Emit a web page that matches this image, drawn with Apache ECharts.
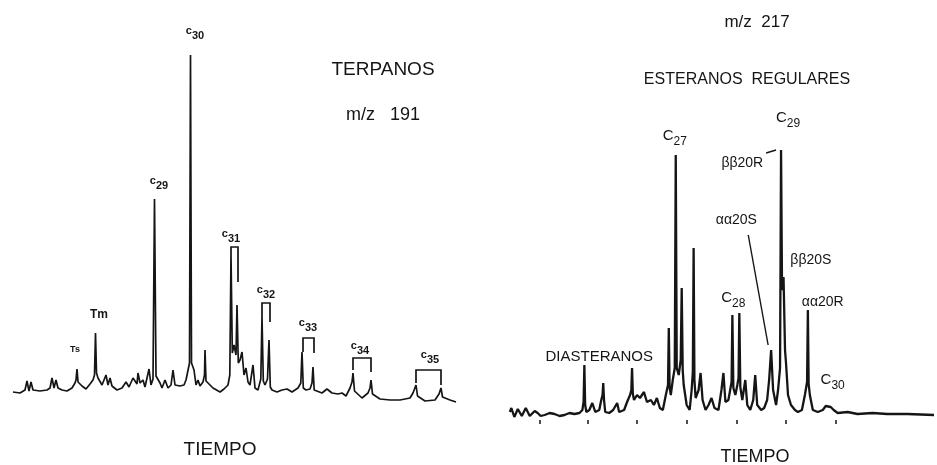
<!DOCTYPE html>
<html>
<head>
<meta charset="utf-8">
<script src="https://cdn.jsdelivr.net/npm/echarts@6/dist/echarts.min.js"></script>
<style>
  html, body { margin: 0; padding: 0; background: #fff; }
  #chart { width: 937px; height: 465px; }
</style>
</head>
<body>
<div id="chart"></div>
<script>
// ---- Terpanos, m/z 191: [scan, abundance] ----
const terpanosTrace = [
  [3,130],[10,120],[15,150],[17,240],[19,140],[21,230],[23,150],[30,140],[37,150],[40,170],
  [42,270],[44,170],[46,250],[48,170],[52,150],[57,140],[62,170],[65,220],[66,250],[67,360],[68,230],
  [72,190],[76,160],[80,210],[83,250],[84.5,300],[85.5,720],[86.5,320],[88,270],[90,280],[92,200],[96,300],[98,200],
  [100,270],[102,190],[107,150],[112,170],[116,230],[119,180],[123,270],[125,290],[127,210],[128,320],
  [130,220],[133,250],[135,180],[139,360],[141,200],[143,260],[144.5,2060],[146,290],[150,220],[152,170],[155,250],
  [158,170],[161,200],[163,350],[165,200],[170,190],[174,200],[176,250],[179.5,420],[180.5,3500],[181.5,420],[184,350],[186,200],
  [188,250],[190,190],[193,230],[194.5,300],[195,550],[196,240],[203,170],[210,130],[214,160],[218,200],[219.8,300],[221,1500],
  [222.3,520],[224,600],[226,500],[227,1000],[228.3,420],[230,450],[232,530],[234,300],[236,370],[238,230],[240,200],[243,400],[245,170],
  [248,150],[250.8,260],[252,880],[253.3,240],[255,200],[257.5,260],[259,650],[260.3,180],[262,150],[267,130],[272,150],[277,160],[282,130],[288,170],
  [290.8,220],[292,530],[293.3,170],[296,150],[300,160],[302,220],[303,380],[304.2,150],[306,130],[312,120],[317,160],[322,120],[328,110],[332,120],
  [336,90],[340,170],[342,230],[343,320],[344.5,140],[346,120],[352,70],[358,120],[360,170],[361,250],[362.5,110],[364,100],[370,60],[380,50],
  [390,50],[400,70],[403,120],[406,200],[407.5,90],[409,70],[415,40],[425,50],[429,110],[431,170],[432.5,80],[434,70],
  [440,50],[446,30]
];
// peak-pair brackets: [first scan, second scan, top, left foot, right foot]
const terpanosBrackets = [
  [221, 228, 1580, 1500, 1230],
  [252, 260, 1020, 880, 830],
  [293, 304, 670, 530, 520],
  [343, 361, 470, 350, 330],
  [406, 431, 350, 220, 200]
];
// labels: [prefix, index, scan, abundance]
const terpanosLabels = [
  ['c', '30', 185, 3720],
  ['c', '29', 149, 2220],
  ['c', '31', 221, 1690],
  ['c', '32', 256, 1130],
  ['c', '33', 298, 800],
  ['c', '34', 350, 570],
  ['c', '35', 420, 480],
  ['Tm', '', 89, 900],
  ['Ts', '', 65, 550]
];

// ---- Esteranos, m/z 217: [scan, abundance] ----
const esteranosTrace = [
  [20,80],[21.5,120],[23,100],[24.5,30],[26,40],[28,110],[30,90],[32,40],[34,60],[36,120],[38,100],[40,40],[42,50],[45,90],[48,70],[51,40],[55,50],[60,70],[65,60],
  [70,40],[75,50],[80,70],[85,60],[90,70],[93,100],[94.2,180],[95,550],[95.8,150],[97,80],[100,100],[103,170],[106,80],[110,100],
  [112,200],[113.3,250],[114,370],[114.8,200],[116,80],[120,70],[124,100],[128,170],[130,80],[135,100],[138,180],[141,250],
  [142.3,300],[143,520],[143.8,260],[145,200],[148,250],[151,220],[155,280],[158,180],[162,200],[165,150],[168,220],[171,120],
  [174,100],[177,250],[179.2,350],[180,920],[180.8,330],[182,250],[184,400],[186,520],[187,2650],[188,520],[190,450],[192,600],[193,1320],[194,500],[195,350],
  [198,150],[201,100],[203,300],[204.2,480],[205,1720],[205.8,400],[207,220],[210,300],[212,470],[214,200],[217,100],[220,150],
  [223,220],[226,120],[230,100],[233,300],[235,470],[237,180],[240,200],[243.2,380],[244,1050],[245,320],[247,250],[249,350],
  [250.2,420],[251,1070],[252,330],[254,200],[257,400],[259,150],[262,100],[265,200],[267,450],[269,150],[273,100],[276,120],
  [279,200],[281,400],[283,700],[285,300],[288,150],[290,300],[292,520],[293,2700],[294,1300],[295.5,1430],[297,700],
  [298,570],[300,250],[303,150],[307,100],[310,80],[314,100],[317,250],[319.2,380],[320,1100],[320.8,360],[322,250],[325,100],
  [330,80],[335,100],[338,140],[340,150],[343,130],[346,100],[350,70],[360,80],[370,60],[385,70],
  [400,60],[420,60],[447,50]
];
const esteranosTicks = [50, 98, 148, 198, 248, 298, 348];
// labels: [prefix, index, scan, abundance]
const esteranosLabels = [
  ['C', '27', 186, 2820],
  ['C', '29', 300, 3000],
  ['C', '28', 245, 1200],
  ['C', '30', 345, 380],
  ['ββ20R', '', 254, 2570],
  ['αα20S', '', 248, 2000],
  ['ββ20S', '', 323, 1600],
  ['αα20R', '', 335, 1180],
  ['DIASTERANOS', '', 110, 630]
];
// leader lines: [scan1, abundance1, scan2, abundance2]
const esteranosLeaders = [
  [278, 2670, 288, 2700],
  [260, 1850, 280, 750]
];

const FONT = '"Liberation Sans", Arial, sans-serif';
const INK = '#151515';

function labelRenderer(list, big) {
  return function (params, api) {
    const item = list[params.dataIndex];
    const p = api.coord([item[2], item[3]]);
    let text, rich;
    if (item[1]) {
      text = '{c|' + item[0] + '}{n|' + item[1] + '}';
      rich = big
        ? { c: { fontSize: 15, lineHeight: 20, verticalAlign: 'top', fontFamily: FONT, fill: INK },
            n: { fontSize: 12, lineHeight: 20, verticalAlign: 'bottom', fontFamily: FONT, fill: INK } }
        : { c: { fontSize: 11, lineHeight: 16, verticalAlign: 'top', fontFamily: FONT, fontWeight: 'bold', fill: INK },
            n: { fontSize: 11, lineHeight: 16, verticalAlign: 'bottom', fontFamily: FONT, fontWeight: 'bold', fill: INK } };
    } else {
      text = '{t|' + item[0] + '}';
      const size = big ? (item[0] === 'DIASTERANOS' ? 15 : 14) : (item[0] === 'Ts' ? 9 : 12);
      rich = { t: { fontSize: size, fontFamily: FONT, fontWeight: big ? 'normal' : 'bold', fill: INK } };
    }
    return {
      type: 'text',
      x: p[0], y: p[1],
      style: { text: text, rich: rich, align: 'center', verticalAlign: 'middle' }
    };
  };
}

const chart = echarts.init(document.getElementById('chart'), null, { renderer: 'canvas' });

const option = {
  backgroundColor: '#fff',
  animation: false,
  grid: [
    { left: 10, width: 450, top: 55, height: 350 },
    { left: 490, width: 450, top: 140, height: 280 }
  ],
  xAxis: [
    { gridIndex: 0, type: 'value', min: 0, max: 450, show: false },
    { gridIndex: 1, type: 'value', min: 0, max: 450,
      axisLine: { show: false },
      axisTick: { show: true, inside: false, length: 4, customValues: esteranosTicks,
                  lineStyle: { color: INK, width: 1.5 } },
      axisLabel: { show: false },
      splitLine: { show: false } }
  ],
  yAxis: [
    { gridIndex: 0, type: 'value', min: 0, max: 3500, show: false },
    { gridIndex: 1, type: 'value', min: 0, max: 2800, show: false }
  ],
  series: [
    {
      name: 'Terpanos m/z 191', type: 'line', xAxisIndex: 0, yAxisIndex: 0,
      data: terpanosTrace, showSymbol: false, clip: false,
      lineStyle: { color: INK, width: 1.7 }
    },
    {
      name: 'Esteranos m/z 217', type: 'line', xAxisIndex: 1, yAxisIndex: 1,
      data: esteranosTrace, showSymbol: false, clip: false,
      lineStyle: { color: INK, width: 2.3 }
    },
    {
      type: 'custom', xAxisIndex: 0, yAxisIndex: 0, clip: false,
      data: terpanosBrackets,
      renderItem: function (params, api) {
        const b = terpanosBrackets[params.dataIndex];
        const pts = [
          api.coord([b[0], b[3]]), api.coord([b[0], b[2]]),
          api.coord([b[1], b[2]]), api.coord([b[1], b[4]])
        ];
        return { type: 'polyline', shape: { points: pts },
                 style: { stroke: INK, lineWidth: 1.7, fill: null } };
      }
    },
    {
      type: 'custom', xAxisIndex: 0, yAxisIndex: 0, clip: false,
      data: terpanosLabels.map(l => [l[2], l[3]]),
      renderItem: labelRenderer(terpanosLabels, false)
    },
    {
      type: 'custom', xAxisIndex: 1, yAxisIndex: 1, clip: false,
      data: esteranosLabels.map(l => [l[2], l[3]]),
      renderItem: labelRenderer(esteranosLabels, true)
    },
    {
      type: 'custom', xAxisIndex: 1, yAxisIndex: 1, clip: false,
      data: esteranosLeaders,
      renderItem: function (params, api) {
        const l = esteranosLeaders[params.dataIndex];
        const a = api.coord([l[0], l[1]]), b = api.coord([l[2], l[3]]);
        return { type: 'line',
                 shape: { x1: a[0], y1: a[1], x2: b[0], y2: b[1] },
                 style: { stroke: INK, lineWidth: 1.4 } };
      }
    }
  ],
  graphic: [
    { type: 'text', x: 383, y: 70, style: { text: 'TERPANOS', font: '19px ' + FONT, fill: INK, align: 'center', verticalAlign: 'middle' } },
    { type: 'text', x: 383, y: 115, style: { text: 'm/z   191', font: '18px ' + FONT, fill: INK, align: 'center', verticalAlign: 'middle' } },
    { type: 'text', x: 220, y: 450, style: { text: 'TIEMPO', font: '19px ' + FONT, fill: INK, align: 'center', verticalAlign: 'middle' } },
    { type: 'text', x: 757, y: 22, style: { text: 'm/z  217', font: '17px ' + FONT, fill: INK, align: 'center', verticalAlign: 'middle' } },
    { type: 'text', x: 747, y: 80, style: { text: 'ESTERANOS  REGULARES', font: '16px ' + FONT, fill: INK, align: 'center', verticalAlign: 'middle' } },
    { type: 'text', x: 755, y: 457, style: { text: 'TIEMPO', font: '18px ' + FONT, fill: INK, align: 'center', verticalAlign: 'middle' } }
  ]
};

chart.setOption(option);
</script>
</body>
</html>
